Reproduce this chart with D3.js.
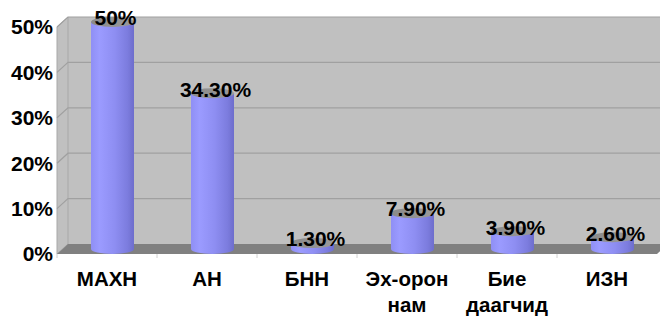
<!DOCTYPE html>
<html>
<head>
<meta charset="utf-8">
<script src="https://cdn.jsdelivr.net/npm/d3@7"></script>
<style>
  body { margin: 0; background: #fff; }
  text { font-family: Arial, "Liberation Sans", sans-serif; font-weight: bold; fill: #000; }
</style>
</head>
<body>
<script>
const width = 660, height = 317;

const categories = ["МАХН", "АН", "БНН", "Эх-орон нам", "Бие даагчид", "ИЗН"];
const values = [50, 34.3, 1.3, 7.9, 3.9, 2.6];
const valueLabels = ["50%", "34.30%", "1.30%", "7.90%", "3.90%", "2.60%"];
const ticks = [0, 10, 20, 30, 40, 50];

// depth of the 3d box
const dx = 11, dy = -10;

const svg = d3.select("body").append("svg")
  .attr("width", width)
  .attr("height", height);

const x = d3.scaleBand().domain(categories).range([57, 657]);
const y = d3.scaleLinear().domain([0, 50]).range([254, 27]);

const defs = svg.append("defs");
const grad = defs.append("linearGradient").attr("id", "cyl");
grad.append("stop").attr("offset", "0%").attr("stop-color", "#8f8ff5");
grad.append("stop").attr("offset", "20%").attr("stop-color", "#9b9bff");
grad.append("stop").attr("offset", "55%").attr("stop-color", "#8e8ef2");
grad.append("stop").attr("offset", "85%").attr("stop-color", "#7c7cde");
grad.append("stop").attr("offset", "100%").attr("stop-color", "#6e6ecc");

const capGrad = defs.append("linearGradient").attr("id", "cap");
capGrad.append("stop").attr("offset", "0%").attr("stop-color", "#8a8a8a");
capGrad.append("stop").attr("offset", "100%").attr("stop-color", "#9a9a9a");

const x0 = 57, x1 = 657;

// back wall
svg.append("rect")
  .attr("x", x0 + dx).attr("y", y(50) + dy)
  .attr("width", width - x0 - dx + 5).attr("height", y(0) - y(50))
  .attr("fill", "#c0c0c0");

// side wall
svg.append("polygon")
  .attr("points", [[x0, y(50)], [x0 + dx, y(50) + dy], [x0 + dx, y(0) + dy], [x0, y(0)]].join(" "))
  .attr("fill", "#c0c0c0")
  .attr("stroke", "#a8a8a8");

// gridlines
const grid = svg.append("g").attr("stroke", "#a0a0a0").attr("stroke-width", 1.2).attr("fill", "none");
grid.selectAll("polyline")
  .data(ticks.slice(1))
  .join("polyline")
    .attr("points", d => [[x0, y(d)], [x0 + dx, y(d) + dy], [width + 5, y(d) + dy]].join(" "));

// floor
svg.append("polygon")
  .attr("points", [[x0, y(0)], [x0 + dx, y(0) + dy], [x1 + dx, y(0) + dy], [x1, y(0)]].join(" "))
  .attr("fill", "#808080");

// category ticks
svg.append("g").attr("stroke", "#d0d0d0")
  .selectAll("line")
  .data(categories)
  .join("line")
    .attr("x1", d => x(d)).attr("x2", d => x(d))
    .attr("y1", y(0)).attr("y2", y(0) + 4);

// cylinders
const r = 21.5, ry = 5;
const bars = svg.append("g")
  .selectAll("g")
  .data(categories.map((c, i) => ({c, v: values[i], label: valueLabels[i]})))
  .join("g")
    .attr("transform", d => `translate(${x(d.c) + x.bandwidth() / 2 + dx / 2},${dy / 2})`);

bars.append("path")
  .attr("d", d => {
    const yt = y(d.v), yb = y(0);
    return `M${-r},${yt} L${-r},${yb} A${r},${ry} 0 0 0 ${r},${yb} L${r},${yt} Z`;
  })
  .attr("fill", "url(#cyl)");

bars.append("ellipse")
  .attr("cx", 0).attr("cy", d => y(d.v))
  .attr("rx", r).attr("ry", ry)
  .attr("fill", "url(#cap)");

bars.append("text")
  .attr("x", 3)
  .attr("y", d => y(d.v) - 4)
  .attr("dy", "0.35em")
  .attr("text-anchor", "middle")
  .attr("font-size", 21)
  .text(d => d.label);

// y axis labels
svg.append("g")
  .selectAll("text")
  .data(ticks)
  .join("text")
    .attr("x", 53)
    .attr("y", d => y(d))
    .attr("dy", "0.35em")
    .attr("text-anchor", "end")
    .attr("font-size", 21)
    .text(d => d + "%");

// category labels
const cat = svg.append("g")
  .selectAll("text")
  .data(categories)
  .join("text")
    .attr("x", d => x(d) + x.bandwidth() / 2)
    .attr("y", 286)
    .attr("text-anchor", "middle")
    .attr("font-size", 20.5);

cat.selectAll("tspan")
  .data(d => d.split(" "))
  .join("tspan")
    .attr("x", function() { return this.parentNode.getAttribute("x"); })
    .attr("dy", (d, i) => i ? 25.5 : 0)
    .text(d => d);
</script>
</body>
</html>
